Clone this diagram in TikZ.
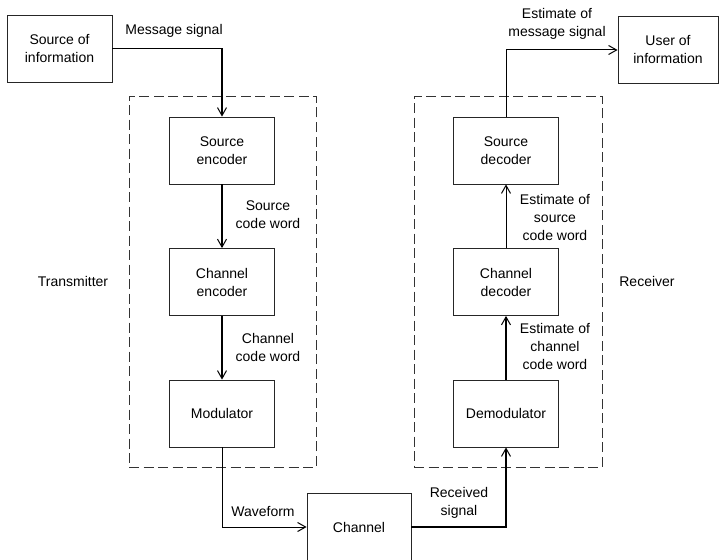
\documentclass[tikz,border=0pt]{standalone}
\usepackage{fontspec}
\setmainfont{Liberation Sans}
\usetikzlibrary{arrows.meta}
\begin{document}
\begin{tikzpicture}[x=1pt,y=-1pt,
  font=\fontsize{14}{18}\selectfont,
  blk/.style={draw=black!85, line width=0.8pt, rectangle, align=center,
    minimum width=105pt, minimum height=67pt, inner sep=0pt},
  frame/.style={draw=black!80, line width=0.8pt, dash pattern=on 10pt off 4.5pt,
    rectangle, inner sep=0pt},
  lbl/.style={align=center, inner sep=0pt},
  heavy/.style={line width=1.5pt, -{Straight Barb[length=8pt,width=9pt,line width=1pt]}},
  light/.style={line width=1pt, -{Straight Barb[length=8pt,width=9pt,line width=1pt]}}]
\useasboundingbox (0,0) rectangle (719,559);
\clip (0,0) rectangle (719,559);

% transmitter and receiver enclosures
\node[frame, minimum width=187pt, minimum height=371pt] (tx) at (222.5,281.5) {};
\node[frame, minimum width=188pt, minimum height=371pt] (rx) at (508,281.5) {};

% blocks
\node[blk] (src)   at (59.5,48.5)  {Source of\\information};
\node[blk] (senc)  at (222,150.5)  {Source\\encoder};
\node[blk] (cenc)  at (222,282)    {Channel\\encoder};
\node[blk] (mod)   at (222,413.5)  {Modulator};
\node[blk, minimum width=104pt, minimum height=68pt] (chan) at (359,527) {Channel};
\node[blk] (demod) at (506,413.5)  {Demodulator};
\node[blk] (cdec)  at (506,282)    {Channel\\decoder};
\node[blk] (sdec)  at (506,150.5)  {Source\\decoder};
\node[blk, minimum width=100pt] (user) at (668,50) {User of\\information};

% signal path
\draw[heavy] (src.east) -| (senc.north);
\draw[heavy] (senc.south) -- (cenc.north);
\draw[heavy] (cenc.south) -- (mod.north);
\draw[light] (mod.south) |- (chan.west);
\draw[heavy] (chan.east) -| (demod.south);
\draw[heavy] (demod.north) -- (cdec.south);
\draw[light] (cdec.north) -- (sdec.south);
\draw[light] (sdec.north) |- (user.west);

% labels
\node[lbl] (lmsg)  at (174,31)  {Message signal};
\node[lbl] (lscw)  at (268,215) {Source\\code word};
\node[lbl] (lccw)  at (268,347) {Channel\\code word};
\node[lbl] (ltx)   at (73,281)  {Transmitter};
\node[lbl] (lwave) at (263,511) {Waveform};
\node[lbl] (lrec)  at (459,503) {Received\\signal};
\node[lbl] (lecw)  at (555,346) {Estimate of\\channel\\code word};
\node[lbl] (lesw)  at (555,217) {Estimate of\\source\\code word};
\node[lbl] (lems)  at (557,24)  {Estimate of\\message signal};
\node[lbl] (lrx)   at (647,281) {Receiver};
\end{tikzpicture}
\end{document}
